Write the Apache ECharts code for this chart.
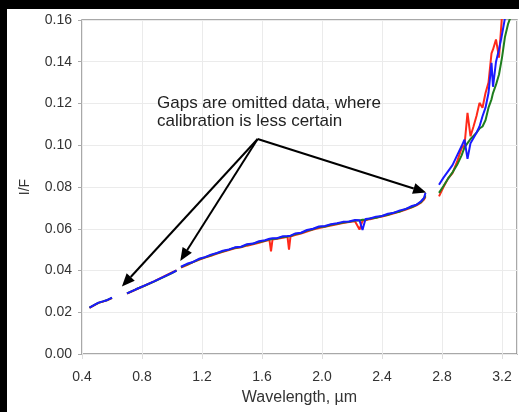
<!DOCTYPE html>
<html>
<head>
<meta charset="utf-8">
<script src="https://cdn.jsdelivr.net/npm/echarts@6/dist/echarts.min.js"></script>
<style>
html,body{margin:0;padding:0;background:#000;width:519px;height:412px;overflow:hidden;}
#chart{position:absolute;left:7px;top:9px;width:512px;height:403px;background:#fff;}
</style>
</head>
<body>
<div id="chart"></div>
<script>
// ---- data ----
const xAxisMin = 0.4, xAxisMax = 3.3, xAxisStep = 0.4;
const yAxisMin = 0, yAxisMax = 0.16, yAxisStep = 0.02;
const xAxisTitle = 'Wavelength, \u00b5m';
const yAxisTitle = 'I/F';
const noteText = 'Gaps are omitted data, where\ncalibration is less certain';

// wavelength samples (µm); '-' values mark omitted data (gaps)
const wavelength = [
  0.45, 0.48, 0.51, 0.54, 0.57, 0.60,
  0.65,
  0.70, 0.76, 0.82, 0.88, 0.94, 1.00, 1.03,
  1.045,
  1.06, 1.10, 1.14, 1.18, 1.22, 1.26, 1.30, 1.34, 1.38, 1.42,
  1.46, 1.50, 1.54, 1.58, 1.62, 1.65, 1.66, 1.67, 1.70, 1.74,
  1.77, 1.78, 1.79, 1.82, 1.86, 1.90, 1.94, 1.98, 2.02, 2.06,
  2.10, 2.14, 2.18, 2.22, 2.25, 2.27, 2.29, 2.32, 2.36, 2.40,
  2.44, 2.48, 2.52, 2.56, 2.60, 2.63, 2.66, 2.68, 2.69,
  2.74,
  2.78, 2.81, 2.84, 2.87, 2.90, 2.93, 2.95, 2.97, 2.99, 3.01,
  3.03, 3.05, 3.07, 3.09, 3.11, 3.13, 3.14, 3.16, 3.18, 3.20,
  3.22, 3.24, 3.26, 3.28
];

const iofRed = [
  0.0221, 0.0233, 0.0245, 0.0251, 0.0258, 0.0268,
  '-',
  0.0289, 0.0309, 0.0328, 0.0348, 0.0369, 0.0391, 0.0401,
  '-',
  0.0414, 0.0426, 0.0440, 0.0451, 0.0462, 0.0470, 0.0481, 0.0490, 0.0498, 0.0506,
  0.0511, 0.0519, 0.0526, 0.0533, 0.0541, 0.0546, 0.0492, 0.0548, 0.0552, 0.0557,
  0.0561, 0.0500, 0.0563, 0.0570, 0.0577, 0.0587, 0.0596, 0.0604, 0.0610, 0.0615,
  0.0622, 0.0627, 0.0632, 0.0636, 0.0596, 0.0638, 0.0641, 0.0646, 0.0652, 0.0658,
  0.0666, 0.0674, 0.0682, 0.0692, 0.0703, 0.0712, 0.0725, 0.0740, 0.0752,
  '-',
  0.0755, 0.0800, 0.0840, 0.0867, 0.0920, 0.0985, 0.1000, 0.1155, 0.1043, 0.1090,
  0.1140, 0.1203, 0.1180, 0.1250, 0.1300, 0.1440, 0.1459, 0.1507, 0.1420, 0.1620,
  0.1700, 0.1780, 0.1850, 0.1900
];

const iofGreen = [
  0.0222, 0.0234, 0.0245, 0.0252, 0.0259, 0.0269,
  '-',
  0.0290, 0.0310, 0.0328, 0.0347, 0.0367, 0.0388, 0.0399,
  '-',
  0.0416, 0.0429, 0.0440, 0.0454, 0.0463, 0.0473, 0.0483, 0.0492, 0.0500, 0.0509,
  0.0512, 0.0523, 0.0528, 0.0537, 0.0543, 0.0549, 0.0546, 0.0551, 0.0553, 0.0561,
  0.0563, 0.0562, 0.0565, 0.0574, 0.0579, 0.0591, 0.0598, 0.0608, 0.0611, 0.0619,
  0.0624, 0.0630, 0.0633, 0.0639, 0.0640, 0.0643, 0.0643, 0.0649, 0.0653, 0.0661,
  0.0667, 0.0677, 0.0683, 0.0695, 0.0704, 0.0715, 0.0727, 0.0745, 0.0760,
  '-',
  0.0772, 0.0805, 0.0840, 0.0870, 0.0905, 0.0950, 0.0990, 0.1010, 0.1030, 0.1045,
  0.1060, 0.1080, 0.1090, 0.1120, 0.1180, 0.1220, 0.1250, 0.1290, 0.1339, 0.1420,
  0.1520, 0.1580, 0.1620, 0.1680
];

const iofBlue = [
  0.0222, 0.0234, 0.0246, 0.0252, 0.0259, 0.0270,
  '-',
  0.0290, 0.0310, 0.0329, 0.0348, 0.0368, 0.0389, 0.0400,
  '-',
  0.0418, 0.0432, 0.0441, 0.0456, 0.0464, 0.0476, 0.0484, 0.0495, 0.0501, 0.0511,
  0.0514, 0.0526, 0.0529, 0.0540, 0.0545, 0.0552, 0.0547, 0.0554, 0.0555, 0.0564,
  0.0565, 0.0566, 0.0567, 0.0577, 0.0581, 0.0594, 0.0600, 0.0611, 0.0613, 0.0622,
  0.0626, 0.0633, 0.0635, 0.0642, 0.0641, 0.0594, 0.0647, 0.0649, 0.0658, 0.0661,
  0.0672, 0.0677, 0.0688, 0.0695, 0.0709, 0.0715, 0.0732, 0.0747, 0.0772,
  '-',
  0.0811, 0.0845, 0.0875, 0.0905, 0.0950, 0.0995, 0.1027, 0.0935, 0.1010, 0.1035,
  0.1060, 0.1090, 0.1139, 0.1180, 0.1250, 0.1395, 0.1280, 0.1400, 0.1459, 0.1530,
  0.1610, 0.1680, 0.1750, 0.1820
];

// annotation anchors in data coordinates
const arrowOrigin = [1.571, 0.1030];
const arrowTips = [[0.666, 0.0323], [1.055, 0.0446], [2.694, 0.0774]];

// ---- chart ----
const FONT = '"Liberation Sans", Arial, sans-serif';
const chart = echarts.init(document.getElementById('chart'), null, {renderer: 'canvas'});

function pairs(vals) { return wavelength.map((w, i) => [w, vals[i]]); }
function lineSeries(name, vals, color) {
  return {
    name: name, type: 'line', data: pairs(vals), showSymbol: false, symbol: 'none',
    connectNulls: false, clip: true, animation: false,
    lineStyle: {color: color, width: 2}, itemStyle: {color: color}
  };
}

chart.setOption({
  animation: false,
  backgroundColor: '#ffffff',
  grid: {left: 75, top: 11, right: 2, bottom: 58, show: true, borderColor: '#8c8c8c', borderWidth: 1.5, backgroundColor: 'transparent'},
  xAxis: {
    type: 'value', min: xAxisMin, max: xAxisMax, interval: xAxisStep,
    name: xAxisTitle, nameLocation: 'middle', nameGap: 36,
    nameTextStyle: {fontFamily: FONT, fontSize: 16, color: '#333'},
    axisLine: {show: false},
    axisTick: {show: true, length: 5, lineStyle: {color: '#ddd'}},
    axisLabel: {fontFamily: FONT, fontSize: 14, color: '#333', margin: 16, showMaxLabel: false,
      formatter: v => v.toFixed(1)},
    splitLine: {show: true, lineStyle: {color: '#ebebeb', width: 1}}
  },
  yAxis: {
    type: 'value', min: yAxisMin, max: yAxisMax, interval: yAxisStep,
    name: yAxisTitle, nameLocation: 'middle', nameGap: 50, nameRotate: 90,
    nameTextStyle: {fontFamily: FONT, fontSize: 14, color: '#333'},
    axisLine: {show: false},
    axisTick: {show: true, length: 4, lineStyle: {color: '#aaa'}},
    axisLabel: {fontFamily: FONT, fontSize: 14, color: '#333', margin: 10,
      formatter: v => v.toFixed(2)},
    splitLine: {show: true, lineStyle: {color: '#ebebeb', width: 1}}
  },
  series: [
    lineSeries('red', iofRed, '#ff2a1a'),
    lineSeries('green', iofGreen, '#1e7d1e'),
    lineSeries('blue', iofBlue, '#1a1aff')
  ]
});

// annotation arrows and text
const o = chart.convertToPixel({gridIndex: 0}, arrowOrigin);
const els = [];
arrowTips.forEach(t => {
  const p = chart.convertToPixel({gridIndex: 0}, t);
  const dx = p[0] - o[0], dy = p[1] - o[1];
  const len = Math.sqrt(dx * dx + dy * dy);
  const ux = dx / len, uy = dy / len;
  const headLen = 13, headW = 5.5;
  const bx = p[0] - ux * headLen, by = p[1] - uy * headLen;
  els.push({type: 'line', shape: {x1: o[0], y1: o[1], x2: bx, y2: by},
    style: {stroke: '#000', lineWidth: 2}, z: 100});
  els.push({type: 'polygon', shape: {points: [
    [p[0], p[1]], [bx - uy * headW, by + ux * headW], [bx + uy * headW, by - ux * headW]]},
    style: {fill: '#000'}, z: 100});
});
els.push({type: 'text', left: 150, top: 85, z: 100,
  style: {text: noteText, font: '17px ' + FONT, fill: '#222', lineHeight: 18.5}});
chart.setOption({graphic: els});
</script>
</body>
</html>
